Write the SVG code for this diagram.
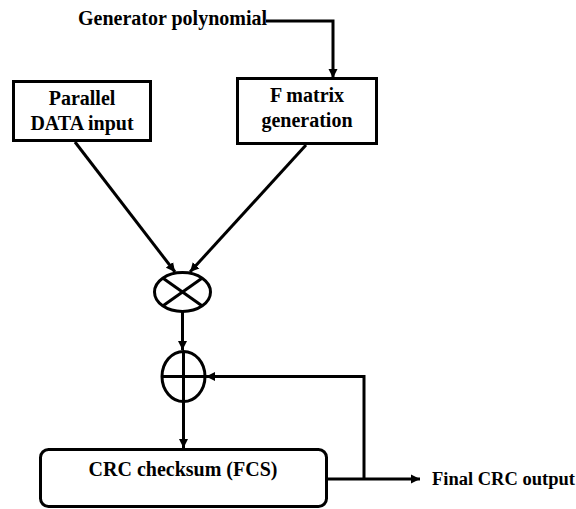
<svg xmlns="http://www.w3.org/2000/svg" width="576" height="509" viewBox="0 0 576 509">
<style>
.box{fill:#fff;stroke:#000;stroke-width:3}
.op{fill:#fff;stroke:#000;stroke-width:3}
.ln{fill:none;stroke:#000;stroke-width:3}
.t{font-family:"Liberation Serif","Times New Roman",serif;font-weight:bold;fill:#000}
.big{font-size:20px}
.sm{font-size:18.5px}
</style>
<defs>
<marker id="ah" markerUnits="userSpaceOnUse" markerWidth="10" markerHeight="10" refX="9" refY="5" orient="auto">
<path d="M0,0.5 L9,5 L0,9.5 z" fill="#000"/>
</marker>
</defs>
<g id="generator">
<text class="t big" x="78" y="25">Generator polynomial</text>
</g>
<g id="parallel">
<rect class="box" x="13.5" y="81.5" width="137" height="59"/>
<text class="t big" x="82" y="105" text-anchor="middle">Parallel</text>
<text class="t big" x="82" y="130" text-anchor="middle">DATA input</text>
</g>
<g id="fmatrix">
<rect class="box" x="237.5" y="78.5" width="139" height="65"/>
<text class="t big" x="307" y="102" text-anchor="middle">F matrix</text>
<text class="t big" x="307" y="127" text-anchor="middle">generation</text>
</g>
<g id="multiply">
<ellipse class="op" cx="182.5" cy="292" rx="28" ry="19.5"/>
<line class="ln" x1="162.7" y1="278.1" x2="202.3" y2="305.9"/>
<line class="ln" x1="202.3" y1="278.1" x2="162.7" y2="305.9"/>
</g>
<g id="xor">
<ellipse class="op" cx="183.5" cy="376.5" rx="21.5" ry="25"/>
<line class="ln" x1="162" y1="376.5" x2="205" y2="376.5"/>
<line class="ln" x1="183.5" y1="351.5" x2="183.5" y2="401.5"/>
</g>
<g id="crc">
<rect class="box" x="40.5" y="449.5" width="286" height="57" rx="8"/>
<text class="t" style="font-size:20px" x="183" y="476" text-anchor="middle">CRC checksum (FCS)</text>
</g>
<g id="final">
<text class="t sm" x="432" y="485">Final CRC output</text>
</g>
<g id="connectors">
<polyline class="ln" points="266,21 333,21 333,78" marker-end="url(#ah)"/>
<line class="ln" x1="75" y1="142" x2="175" y2="272" marker-end="url(#ah)"/>
<line class="ln" x1="306" y1="145" x2="190" y2="272" marker-end="url(#ah)"/>
<line class="ln" x1="182.5" y1="311.5" x2="182.5" y2="350" marker-end="url(#ah)"/>
<line class="ln" x1="183.5" y1="401.5" x2="183.5" y2="448" marker-end="url(#ah)"/>
<line class="ln" x1="326" y1="479" x2="420" y2="479" marker-end="url(#ah)"/>
<polyline class="ln" points="364,479 364,376.5 206,376.5" marker-end="url(#ah)"/>
</g>
</svg>
